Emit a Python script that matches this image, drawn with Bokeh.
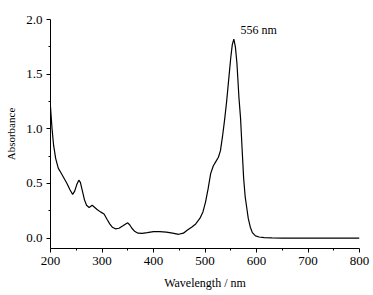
from bokeh.plotting import figure
from bokeh.models import Range1d, FixedTicker, NumeralTickFormatter
from bokeh.core.properties import value
from bokeh.embed import file_html
from bokeh.resources import INLINE

wavelength = [200, 203, 206, 210, 215, 220, 226, 232, 238, 243, 247, 251, 255, 258,
              262, 266, 270, 275, 281, 286, 291, 297, 304, 310, 315, 320, 326, 333,
              340, 346, 350, 354, 358, 364, 370, 378, 388, 400, 412, 425, 437, 449,
              458, 466, 474, 482, 490, 496, 501, 506, 511, 516, 521, 526, 530, 534,
              538, 542, 546, 550, 553, 556, 559, 562, 566, 569, 572, 575, 578, 581,
              584, 588, 592, 598, 605, 615, 630, 650, 700, 750, 800]
absorbance = [1.20, 1.00, 0.85, 0.73, 0.64, 0.60, 0.55, 0.50, 0.44, 0.40, 0.43, 0.49, 0.53, 0.51,
              0.43, 0.35, 0.30, 0.28, 0.30, 0.28, 0.26, 0.24, 0.22, 0.17, 0.13, 0.10, 0.085, 0.09,
              0.11, 0.13, 0.14, 0.12, 0.09, 0.06, 0.045, 0.043, 0.05, 0.06, 0.06, 0.055, 0.045, 0.035,
              0.045, 0.075, 0.10, 0.13, 0.18, 0.24, 0.33, 0.45, 0.59, 0.66, 0.70, 0.74, 0.80, 0.93,
              1.08, 1.25, 1.45, 1.65, 1.77, 1.82, 1.75, 1.60, 1.28, 1.10, 0.82, 0.55, 0.38, 0.28,
              0.18, 0.10, 0.05, 0.02, 0.01, 0.005, 0.002, 0.0, 0.0, 0.0, 0.0]

x_ticks = [200, 300, 400, 500, 600, 700, 800]
y_ticks = [0.0, 0.5, 1.0, 1.5, 2.0]
peak_label = "556 nm"
peak_label_pos = (569, 1.90)

FONT = "'Liberation Serif', 'Times New Roman', serif"

p = figure(width=373, height=295, output_backend="svg", toolbar_location=None,
           x_range=Range1d(200, 800), y_range=Range1d(-0.095, 2.0),
           min_border_left=50, min_border_right=14, min_border_top=19, min_border_bottom=47)
p.outline_line_color = None
p.grid.visible = False
p.background_fill_color = "white"
p.border_fill_color = "white"

p.line(wavelength, absorbance, line_color="black", line_width=1.2)
p.text(x=[peak_label_pos[0]], y=[peak_label_pos[1]], text=[peak_label],
       text_font=value(FONT), text_font_size="12px", text_baseline="middle",
       text_align="left", text_color="black")

p.xaxis.ticker = FixedTicker(ticks=x_ticks, minor_ticks=[250, 350, 450, 550, 650, 750])
p.yaxis.ticker = FixedTicker(ticks=y_ticks, minor_ticks=[0.25, 0.75, 1.25, 1.75])
p.yaxis.formatter = NumeralTickFormatter(format="0.0")

for ax in (p.xaxis[0], p.yaxis[0]):
    ax.axis_line_color = "black"
    ax.axis_line_width = 1
    ax.major_tick_line_color = "black"
    ax.minor_tick_line_color = "black"
    ax.major_tick_in = 0
    ax.major_tick_out = 4
    ax.minor_tick_in = 0
    ax.minor_tick_out = 2
    ax.major_label_text_font = FONT
    ax.major_label_text_color = "black"
    ax.axis_label_text_font = FONT
    ax.axis_label_text_font_style = "normal"
    ax.axis_label_text_color = "black"

p.xaxis.major_label_text_font_size = "13px"
p.yaxis.major_label_text_font_size = "13px"
p.xaxis.axis_label = "Wavelength / nm"
p.yaxis.axis_label = "Absorbance"
p.xaxis.axis_label_text_font_size = "12px"
p.yaxis.axis_label_text_font_size = "11px"
p.xaxis.major_label_standoff = 4
p.yaxis.major_label_standoff = 4
p.xaxis.axis_label_standoff = 8
p.yaxis.axis_label_standoff = 6

open("out.html", "w").write(file_html(p, INLINE))
